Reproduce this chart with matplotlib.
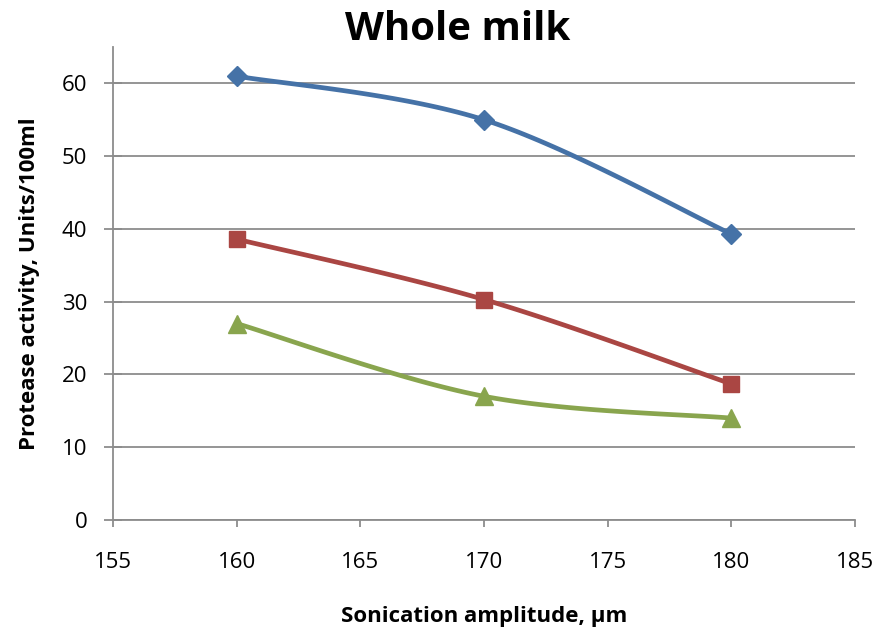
import numpy as np
import matplotlib
matplotlib.use("Agg")
import matplotlib.pyplot as plt

amplitude = [160, 170, 180]
series_blue = [61.0, 55.0, 39.3]
series_red = [38.6, 30.3, 18.7]
series_green = [27.0, 17.0, 14.0]
x_ticks = [155, 160, 165, 170, 175, 180, 185]
y_ticks = [0, 10, 20, 30, 40, 50, 60]

plt.rcParams['font.family'] = ['Open Sans', 'DejaVu Sans']


def smooth(xs, ys, n=40):
    xs = np.asarray(xs, float)
    ys = np.asarray(ys, float)
    px = np.concatenate([[xs[0]], xs, [xs[-1]]])
    py = np.concatenate([[ys[0]], ys, [ys[-1]]])
    outx, outy = [], []
    t = np.linspace(0, 1, n)
    for i in range(1, len(px) - 2):
        p0 = np.array([px[i], py[i]])
        p3 = np.array([px[i + 1], py[i + 1]])
        p1 = p0 + (np.array([px[i + 1], py[i + 1]]) - np.array([px[i - 1], py[i - 1]])) / 6
        p2 = p3 - (np.array([px[i + 2], py[i + 2]]) - np.array([px[i], py[i]])) / 6
        b = ((1 - t) ** 3)[:, None] * p0 + (3 * (1 - t) ** 2 * t)[:, None] * p1 + \
            (3 * (1 - t) * t ** 2)[:, None] * p2 + (t ** 3)[:, None] * p3
        outx.extend(b[:, 0])
        outy.extend(b[:, 1])
    return outx, outy


fig = plt.figure(figsize=(8.77, 6.31), dpi=100)
ax = fig.add_axes([0.1288, 0.1759, 0.975 - 0.1288, 0.9255 - 0.1759])

specs = [(series_blue, '#4572A7', 'D', 10.5), (series_red, '#AA4643', 's', 12), (series_green, '#89A54E', '^', 13)]
for ys, col, mk, ms in specs:
    sx, sy = smooth(amplitude, ys)
    ax.plot(sx, sy, color=col, lw=3.4, solid_capstyle='round', zorder=3)
    ax.plot(amplitude, ys, linestyle='none', marker=mk, color=col, ms=ms, zorder=4)

ax.set_xlim(155, 185)
ax.set_ylim(0, 65)
ax.set_xticks(x_ticks)
ax.set_yticks(y_ticks)
ax.yaxis.grid(True, color='#8c8c8c', lw=1.3)
ax.set_axisbelow(True)
for s in ['top', 'right']:
    ax.spines[s].set_visible(False)
for s in ['left', 'bottom']:
    ax.spines[s].set_color('#8c8c8c')
    ax.spines[s].set_linewidth(1.3)
ax.tick_params(axis='y', direction='inout', length=13, color='#8c8c8c', width=1.3, labelsize=16, pad=12)
ax.tick_params(axis='x', direction='out', length=5, color='#8c8c8c', width=1.3, labelsize=16, pad=18)

ax.set_xlabel('Sonication amplitude, µm', fontsize=16, fontweight='bold', labelpad=24)
ax.set_ylabel('Protease activity, Units/100ml', fontsize=16, fontweight='bold', labelpad=16)
fig.text(0.522, 0.953, 'Whole milk', ha='center', va='center', fontsize=29, fontweight='bold')

fig.savefig('out.png', dpi=100)
